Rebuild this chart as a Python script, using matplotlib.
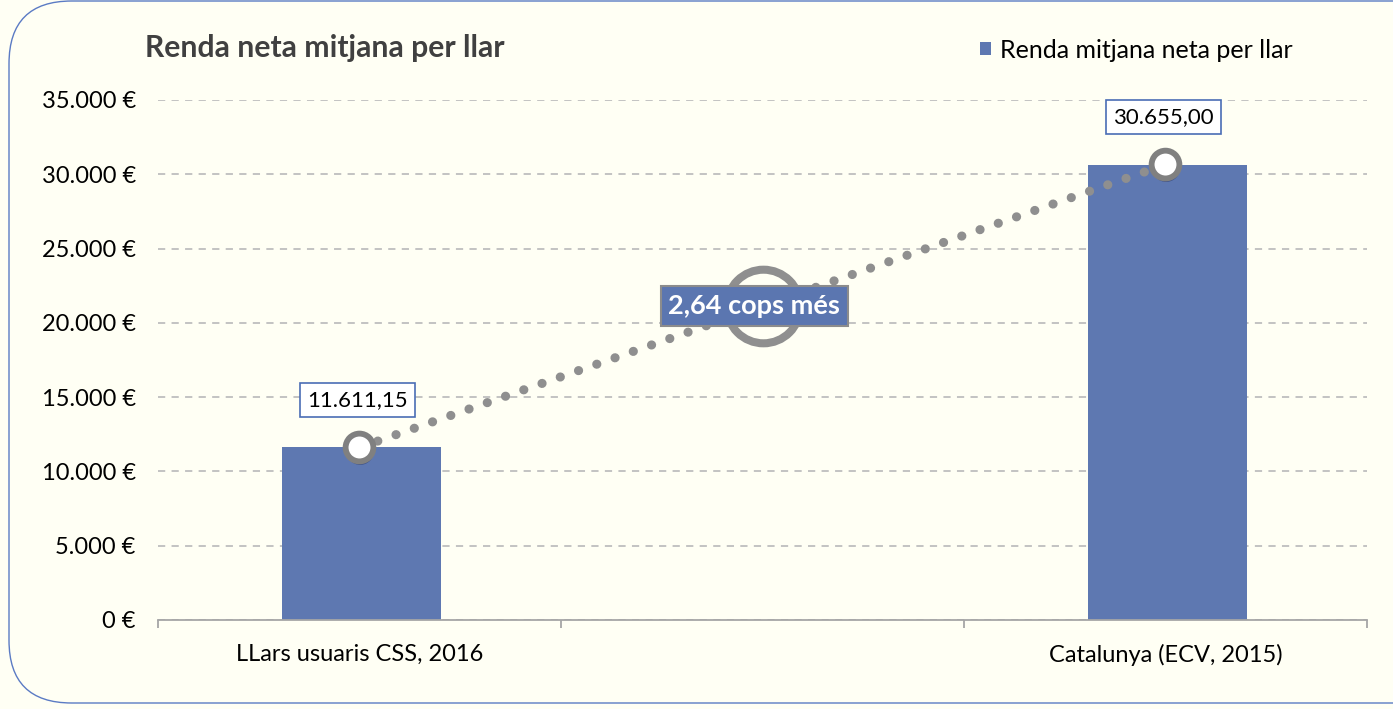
import matplotlib
matplotlib.use("Agg")
import matplotlib.pyplot as plt
import matplotlib.patches as patches
import matplotlib.patheffects as pe
from matplotlib.ticker import FuncFormatter, FixedLocator
import numpy as np

plt.rcParams["font.family"] = ["Lato", "DejaVu Sans"]

# ---- data ----
categories = ["LLars usuaris CSS, 2016", "", "Catalunya (ECV, 2015)"]
bar_values = [11611.15, np.nan, 30655.00]
line_values = [11611.15, 21133.0, 30655.00]
bar_labels = ["11.611,15", None, "30.655,00"]
ratio_label = "2,64 cops més"
title = "Renda neta mitjana per llar"
series_name = "Renda mitjana neta per llar"

BG = "#FFFFF4"
BAR = "#5E78B1"
GRID = "#BEBEBE"
DOT = "#8F8F8F"
TXT = "#000000"

W, H = 1393, 709
fig = plt.figure(figsize=(W / 100, H / 100), dpi=100, facecolor=BG)

# rounded frame around the chart (runs off the right edge)
fig.patches.append(patches.FancyBboxPatch(
    (9 / W, 6 / H), 1.2, (708 - 6) / H,
    boxstyle="round,pad=0,rounding_size=0.045",
    transform=fig.transFigure, fc="none", ec="#5B7BC4", lw=1.0,
    mutation_aspect=W / H, clip_on=False,
))

ax = fig.add_axes([158 / W, 1 - 620 / H, (1367 - 158) / W, (620 - 100) / H])
ax.set_facecolor("none")

x = np.arange(len(categories))
ax.bar(x + 0.004, bar_values, width=0.395, color=BAR, label=series_name,
       zorder=2)

# dotted connector between the two bars
ax.plot(x, line_values, color=DOT, lw=6.6, linestyle=(0, (0.01, 2.1)),
        dash_capstyle="round", zorder=3)

# big ring in the middle
ax.plot(x[1], line_values[1], marker="o", ms=53, mfc="none", mec=DOT,
        mew=5.8, zorder=4)

# end markers at bar tops
ends = [0, 2]
sc = ax.scatter(x[ends], [line_values[i] for i in ends], s=20 ** 2,
                facecolor="white", edgecolor="#808080", linewidth=4.2,
                zorder=5)
sc.set_path_effects([
    pe.SimplePatchShadow(offset=(0.5, -2.5), shadow_rgbFace="#1F2F66",
                         alpha=0.55),
    pe.Normal(),
])

# data labels
for xi, lab, val in zip(x, bar_labels, line_values):
    if lab is None:
        continue
    ax.annotate(lab, (xi, val), xytext=(-1.5, 34), textcoords="offset points",
                ha="center", va="center", fontsize=16, color=TXT, zorder=6,
                bbox=dict(boxstyle="square,pad=0.32", fc="white",
                          ec="#4A6DB5", lw=1.2))

ax.annotate(ratio_label, (x[1], line_values[1]), xytext=(-6, 0),
            textcoords="offset points", ha="center", va="center",
            fontsize=19.5, fontweight="bold", color="white", zorder=6,
            bbox=dict(boxstyle="square,pad=0.28", fc="#5B76B0",
                      ec="#8C8C8C", lw=1.5))

# axes styling
ax.set_xlim(-0.5, 2.5)
ax.set_ylim(0, 35000)
ax.set_yticks(np.arange(0, 35001, 5000))
ax.yaxis.set_major_formatter(
    FuncFormatter(lambda v, p: f"{v:,.0f} €".replace(",", ".")))
ax.grid(axis="y", color=GRID, lw=1.3, linestyle=(0, (4, 3.5)), zorder=1)
ax.set_axisbelow(True)
ax.tick_params(axis="y", length=0, pad=16, labelsize=17, labelcolor=TXT)

ax.set_xticks(x)
ax.set_xticklabels(categories)
ax.xaxis.set_minor_locator(FixedLocator([-0.5, 0.5, 1.5, 2.5]))
ax.tick_params(axis="x", which="major", length=0, pad=17, labelsize=17,
               labelcolor=TXT)
ax.tick_params(axis="x", which="minor", length=6, width=1.3, color="#A6A6A6")

for s in ["left", "right", "top"]:
    ax.spines[s].set_visible(False)
ax.spines["bottom"].set_color("#A6A6A6")
ax.spines["bottom"].set_linewidth(1.3)
ax.spines["bottom"].set_zorder(3)

fig.text(145 / W, 1 - 48 / H, title, ha="left", va="center",
         fontsize=21.7, fontweight="bold", color="#404040")

ax.legend(loc="center left", bbox_to_anchor=(980 / W, 1 - 50 / H),
          bbox_transform=fig.transFigure, frameon=False, fontsize=18,
          handlelength=0.45, handleheight=0.45, handletextpad=0.35,
          borderpad=0, borderaxespad=0)

fig.savefig("out.png", dpi=100, facecolor=BG)
